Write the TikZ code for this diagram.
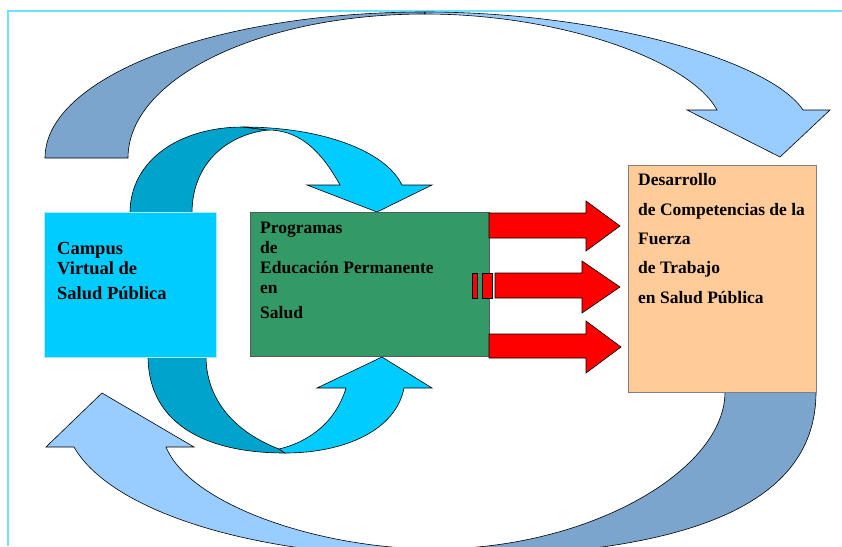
\documentclass[tikz,border=0pt]{standalone}
\usepackage{fontspec}
\setmainfont{Liberation Serif}
\usetikzlibrary{positioning}
\definecolor{frameblue}{HTML}{6EE2FF}
\definecolor{campblue}{HTML}{00CCFF}
\definecolor{progreen}{HTML}{339966}
\definecolor{desorange}{HTML}{FFCC99}
\definecolor{ribbondark}{HTML}{7BA5CC}
\definecolor{ribbonlight}{HTML}{99CCFF}
\definecolor{loopdark}{HTML}{00A3CC}
\definecolor{looplight}{HTML}{00CCFF}
\tikzset{
  ribbon/.style={draw=black, line width=0.6pt},
  redarrow/.style={fill=red, draw=black, line width=0.6pt},
  box/.style={rectangle, inner sep=0pt, anchor=north west},
  boxtext/.style={anchor=north west, inner sep=0pt, align=left,
    font=\bfseries\fontsize{17.5}{20}\selectfont},
}

\begin{document}
\begin{tikzpicture}[x=1pt, y=-1pt]
    \useasboundingbox (0,0) rectangle (842,546);
    \clip (0,0) rectangle (842,546);
    \draw[frameblue, line width=2pt] (8,546) -- (8,10.5) -- (842,10.5);

    \filldraw[ribbon, fill=ribbondark] (45,158) .. controls (45,77) and (215,12) .. (425,12)
      -- (425,14) .. controls (261,14) and (128,78) .. (128,158) -- cycle;
    \filldraw[ribbon, fill=ribbonlight] (425,12) .. controls (600,12) and (770,60) .. (803,110)
      -- (830,110) -- (780,157) -- (687,110) -- (717,110)
      .. controls (690,60) and (560,14) .. (425,14) -- cycle;
    \filldraw[ribbon, fill=ribbondark] (816,392) .. controls (816,500) and (700,557) .. (435,557)
      -- (435,549) .. controls (590,549) and (725,470) .. (725,392) -- cycle;
    \filldraw[ribbon, fill=ribbonlight] (435,557) .. controls (250,557) and (110,510) .. (74,447)
      -- (46,447) -- (102,393) -- (194,447) -- (166,447)
      .. controls (190,505) and (320,549) .. (435,549) -- cycle;

    \filldraw[ribbon, fill=loopdark] (130,213) .. controls (130,160) and (180,127) .. (243,127)
      -- (268,130) .. controls (225,135) and (192,165) .. (192,213) -- cycle;
    \filldraw[ribbon, fill=looplight] (243,127) .. controls (320,127) and (385,150) .. (402,185)
      -- (432,185) -- (377,212) -- (307,185) -- (340,185)
      .. controls (318,145) and (295,130) .. (268,130) -- cycle;
    \filldraw[ribbon, fill=loopdark] (148,356) .. controls (148,420) and (200,453) .. (285,453)
      -- (279,449) .. controls (235,432) and (206,400) .. (206,356) -- cycle;
    \filldraw[ribbon, fill=looplight] (285,453) .. controls (345,453) and (396,430) .. (404,388)
      -- (432,388) -- (382,357) -- (317,388) -- (346,388)
      .. controls (335,425) and (305,443) .. (279,449) -- cycle;

    \node[box, fill=campblue, draw=campblue!35, line width=1pt,
      minimum width=172pt, minimum height=145pt] (campus) at (44,212) {};
    \node[box, fill=progreen, draw=gray!70!black, line width=0.8pt,
      minimum width=239pt, minimum height=144pt] (prog) at (250,212) {};
    \node[box, fill=desorange, draw=gray, line width=1pt,
      minimum width=188pt, minimum height=227pt] (desa) at (628,165) {};

    \filldraw[redarrow] (489,213) -- (586,213) -- (586,201) -- (620,226)
      -- (586,251) -- (586,238) -- (489,238) -- cycle;
    \filldraw[redarrow] (495,273) -- (582,273) -- (582,261) -- (620,287)
      -- (582,313) -- (582,298) -- (495,298) -- cycle;
    \filldraw[redarrow] (472,273) rectangle (477,298);
    \filldraw[redarrow] (482,273) rectangle (492,298);
    \filldraw[redarrow] (489,334) -- (586,334) -- (586,321) -- (621,347)
      -- (586,373) -- (586,358) -- (489,358) -- cycle;

    \node[boxtext, font=\bfseries\fontsize{18.5}{20}\selectfont,
      below right=30.5pt and 13pt of campus.north west] (camptxt)
      {Campus\\Virtual de\\[5pt]Salud Pública};
    \node[boxtext, below right=9.5pt and 10pt of prog.north west] (progtxt)
      {Programas\\de\\Educación Permanente\\en\\[5pt]Salud};
    \node[boxtext, font=\bfseries\fontsize{17.5}{29.3}\selectfont,
      below right=8.5pt and 10pt of desa.north west] (desatxt)
      {Desarrollo\\de Competencias de la\\Fuerza\\de Trabajo\\en Salud Pública};
\end{tikzpicture}
\end{document}
